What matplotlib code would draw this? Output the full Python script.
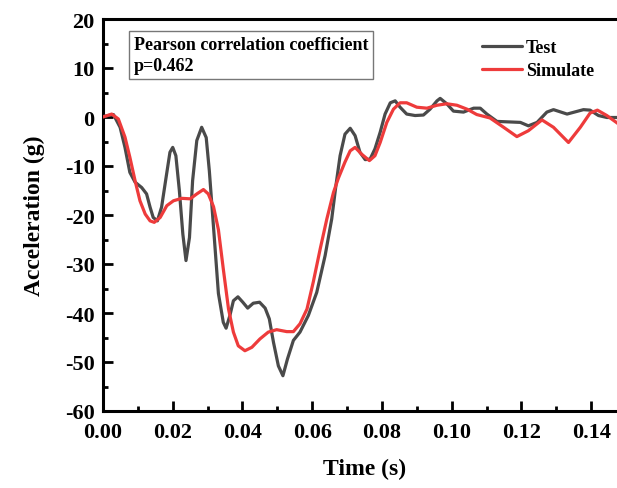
import matplotlib
matplotlib.use("Agg")
import matplotlib.pyplot as plt
from matplotlib.ticker import MultipleLocator

plt.rcParams['font.family'] = ['Liberation Serif', 'DejaVu Serif']
plt.rcParams['font.weight'] = 'bold'
plt.rcParams['axes.unicode_minus'] = False

# Measured acceleration (time in s, acceleration in g)
test_t = [0.0000, 0.0030, 0.0049, 0.0063, 0.0077, 0.0092, 0.0111, 0.0125, 0.0135,
          0.0144, 0.0156, 0.0168, 0.0181, 0.0192, 0.0200, 0.0209, 0.0219, 0.0229,
          0.0238, 0.0248, 0.0257, 0.0269, 0.0283, 0.0296, 0.0305, 0.0317, 0.0331,
          0.0345, 0.0353, 0.0364, 0.0374, 0.0387, 0.0401, 0.0415, 0.0431, 0.0449,
          0.0465, 0.0477, 0.0489, 0.0503, 0.0516, 0.0529, 0.0546, 0.0565, 0.0589,
          0.0613, 0.0637, 0.0656, 0.0668, 0.0680, 0.0694, 0.0709, 0.0723, 0.0737,
          0.0752, 0.0766, 0.0780, 0.0795, 0.0809, 0.0824, 0.0838, 0.0852, 0.0871,
          0.0895, 0.0919, 0.0938, 0.0958, 0.0967, 0.0986, 0.1005, 0.1034, 0.1063,
          0.1082, 0.1101, 0.1130, 0.1197, 0.1220, 0.1245, 0.1273, 0.1292, 0.1331,
          0.1378, 0.1397, 0.1421, 0.1445, 0.1480]
test_a = [0.1, 0.5, -2.1, -6.2, -11.3, -13.3, -14.4, -15.7, -18.4,
          -20.5, -21.2, -18.4, -12.3, -7.2, -6.2, -7.9, -15.0, -23.9,
          -29.3, -24.6, -13.0, -4.8, -2.1, -4.2, -11.0, -22.5, -36.0,
          -41.9, -43.1, -40.5, -37.5, -36.7, -37.8, -39.0, -38.0, -37.8,
          -39.0, -41.2, -46.0, -50.8, -52.8, -49.4, -45.6, -43.9, -40.5,
          -35.8, -28.3, -20.8, -14.0, -7.9, -3.5, -2.3, -3.8, -7.2,
          -8.7, -8.6, -6.5, -3.1, 0.6, 2.9, 3.3, 2.0, 0.6,
          0.3, 0.4, 1.6, 3.3, 3.8, 2.7, 1.2, 1.0, 1.8,
          1.8, 0.6, -0.9, -1.1, -1.8, -1.1, 1.0, 1.5, 0.6,
          1.5, 1.4, 0.3, -0.1, -0.1]

# Simulated acceleration
sim_t = [0.0000, 0.0025, 0.0044, 0.0063, 0.0077, 0.0092, 0.0106, 0.0121, 0.0135,
         0.0147, 0.0164, 0.0183, 0.0202, 0.0226, 0.0250, 0.0269, 0.0288, 0.0302,
         0.0317, 0.0331, 0.0345, 0.0360, 0.0374, 0.0388, 0.0407, 0.0427, 0.0450,
         0.0474, 0.0498, 0.0527, 0.0546, 0.0565, 0.0585, 0.0603, 0.0623, 0.0642,
         0.0661, 0.0675, 0.0694, 0.0709, 0.0723, 0.0742, 0.0764, 0.0780, 0.0795,
         0.0814, 0.0833, 0.0852, 0.0871, 0.0900, 0.0929, 0.0958, 0.0986, 0.1015,
         0.1044, 0.1072, 0.1110, 0.1149, 0.1187, 0.1220, 0.1259, 0.1292, 0.1335,
         0.1369, 0.1397, 0.1418, 0.1445, 0.1480]
sim_a = [0.0, 0.6, -0.4, -4.1, -8.2, -13.0, -17.1, -19.8, -21.2,
         -21.5, -20.5, -18.1, -17.1, -16.6, -16.7, -15.7, -14.8, -15.7,
         -18.3, -23.0, -31.0, -39.2, -43.9, -46.7, -47.7, -47.0, -45.3,
         -43.9, -43.4, -43.8, -43.8, -42.2, -39.2, -33.7, -26.9, -20.8,
         -15.4, -12.5, -9.2, -6.9, -6.2, -7.6, -8.9, -7.9, -5.2,
         -1.1, 1.6, 2.9, 2.9, 2.0, 1.8, 2.4, 2.7, 2.4,
         1.6, 0.5, -0.2, -2.1, -4.0, -2.8, -0.6, -2.1, -5.2,
         -2.1, 0.8, 1.4, 0.3, -1.5]

x_ticks = [0.00, 0.02, 0.04, 0.06, 0.08, 0.10, 0.12, 0.14]
y_ticks = [-60, -50, -40, -30, -20, -10, 0, 10, 20]

W, H = 617, 489
fig = plt.figure(figsize=(W / 100, H / 100), dpi=100)
# axes run slightly past the right edge of the canvas
left, right, top, bottom = 103, 626, 20, 412
ax = fig.add_axes([left / W, 1 - bottom / H, (right - left) / W, (bottom - top) / H])

ax.plot(test_t, test_a, color='#4a4a4a', lw=2.3, solid_joinstyle='round',
        solid_capstyle='round', label='Test', zorder=3)
ax.plot(sim_t, sim_a, color='#ee3b3b', lw=2.3, solid_joinstyle='round',
        solid_capstyle='round', label='Simulate', zorder=4)

ax.set_xlim(0, 0.15)
ax.set_ylim(-60, 20)
ax.set_xticks(x_ticks)
ax.set_xticklabels([f'{v:.2f}' for v in x_ticks])
ax.set_yticks(y_ticks)
ax.xaxis.set_minor_locator(MultipleLocator(0.01))
ax.yaxis.set_minor_locator(MultipleLocator(5))

ax.tick_params(which='both', direction='in', top=False, right=False, width=2,
               labelsize=16)
ax.tick_params(axis='x', pad=8)
ax.tick_params(axis='y', pad=6)
ax.tick_params(which='major', length=7)
ax.tick_params(which='minor', length=3.5)
for lab in ax.get_xticklabels() + ax.get_yticklabels():
    lab.set_fontweight('bold')
for side in ['left', 'bottom', 'top', 'right']:
    ax.spines[side].set_linewidth(2.2)

ax.set_xlabel('Time (s)', fontsize=17, fontweight='bold', labelpad=11)
ax.set_ylabel('Acceleration (g)', fontsize=17, fontweight='bold', labelpad=14)

ax.text(0.0088, 16.6, 'Pearson correlation coefficient\np=0.462', fontsize=13,
        fontweight='bold', va='top', ha='left', linespacing=1.35,
        bbox=dict(boxstyle='square,pad=0.25', fc='white', ec='#777777', lw=1))

leg = ax.legend(loc='upper left', bbox_to_anchor=(0.69, 0.995), frameon=False,
                prop={'size': 13, 'weight': 'bold'}, handlelength=2.2,
                handletextpad=0.25, labelspacing=0.35, borderaxespad=0.6)

fig.savefig('out.png', dpi=100)
